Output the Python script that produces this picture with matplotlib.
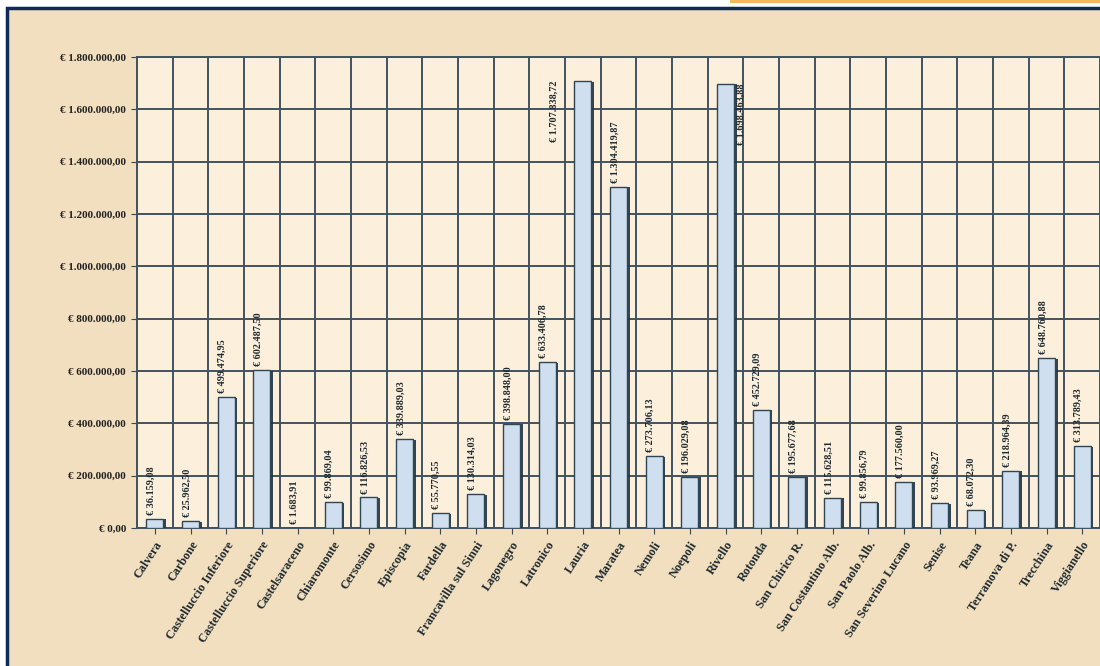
import matplotlib
matplotlib.use("Agg")
import matplotlib.pyplot as plt
import matplotlib.patheffects as pe
from matplotlib.patches import Rectangle
from matplotlib.ticker import FixedLocator

comuni = ["Calvera", "Carbone", "Castelluccio Inferiore", "Castelluccio Superiore",
          "Castelsaraceno", "Chiaromonte", "Cersosimo", "Episcopia", "Fardella",
          "Francavilla sul Sinni", "Lagonegro", "Latronico", "Lauria", "Maratea",
          "Nemoli", "Noepoli", "Rivello", "Rotonda", "San Chirico R.",
          "San Costantino Alb.", "San Paolo Alb.", "San Severino Lucano", "Senise",
          "Teana", "Terranova di P.", "Trecchina", "Viggianello"]
importi = [36159.08, 25962.50, 499474.95, 602487.50,
           1683.91, 99869.04, 116826.53, 339889.03, 55770.55,
           130314.03, 398848.00, 633406.78, 1707838.72, 1304419.87,
           273706.13, 196029.08, 1698463.88, 452729.09, 195677.68,
           115628.51, 99856.79, 177560.00, 93969.27,
           68072.30, 218964.39, 648760.88, 313789.43]
yticks = [0, 200000, 400000, 600000, 800000, 1000000, 1200000, 1400000, 1600000, 1800000]


def euro(v):
    s = f"{v:,.2f}"
    s = s.replace(",", "X").replace(".", ",").replace("X", ".")
    return "€ " + s


plt.rcParams['font.family'] = ['Liberation Serif', 'DejaVu Serif']

fig = plt.figure(figsize=(11, 6.66), dpi=100)
fig.patch.set_facecolor("white")

# parchment background with navy frame (extends past right/bottom edges)
bg = Rectangle((7 / 1100, -0.05), 1.1, 1 - 8 / 666 + 0.05, transform=fig.transFigure,
               facecolor="#f1dfbf", edgecolor="#0f2a55", linewidth=2.5, zorder=-10)
fig.patches.append(bg)
strip = Rectangle((730 / 1100, 1 - 3 / 666), 1 - 730 / 1100, 3 / 666, transform=fig.transFigure,
                  facecolor="#f4b860", edgecolor="none", zorder=-10)
fig.patches.append(strip)

ax = fig.add_axes([137 / 1100, 138 / 666, 1 - 137 / 1100, (528 - 57) / 666])
ax.set_facecolor("#fcefdc")
ax.set_zorder(5)

x = list(range(len(comuni)))
bars = ax.bar(x, importi, width=0.48, color="#cfdff0", edgecolor="#2e4656",
              linewidth=1.0, zorder=3)
for b in bars:
    b.set_path_effects([pe.SimplePatchShadow(offset=(1.8, -0.5), shadow_rgbFace="#1f3340",
                                              alpha=0.9), pe.Normal()])

ax.set_xlim(-0.5, len(comuni) - 0.5)
ax.set_ylim(0, 1800000)
ax.set_yticks(yticks)
ax.set_yticklabels([euro(v) for v in yticks], fontsize=8, fontweight="bold", color="#222222")
ax.set_xticks(x)
ax.set_xticklabels(comuni, rotation=57, ha="right", rotation_mode="anchor",
                   fontsize=8.8, fontweight="bold", color="#1e2a30")
ax.tick_params(axis="x", length=4, pad=4, color="#3a4a55")
ax.tick_params(axis="y", length=4, pad=4, color="#3a4a55")

ax.xaxis.set_minor_locator(FixedLocator([i - 0.5 for i in range(len(comuni) + 1)]))
ax.grid(which="minor", axis="x", color="#415260", linewidth=1.4, zorder=1)
ax.grid(which="major", axis="y", color="#415260", linewidth=1.4, zorder=1)
ax.tick_params(axis="x", which="minor", length=0)
ax.set_axisbelow(True)

for s in ax.spines.values():
    s.set_color("#415260")
    s.set_linewidth(1.4)
ax.spines["right"].set_visible(False)

for i, (xi, v) in enumerate(zip(x, importi)):
    if comuni[i] == "Lauria":
        ax.text(xi - 0.8, v, euro(v), rotation=90, ha="center", va="top",
                fontsize=7.3, fontweight="bold", color="#1e2a30", zorder=4)
    elif comuni[i] == "Rivello":
        ax.text(xi + 0.43, v, euro(v), rotation=90, ha="center", va="top",
                fontsize=7.3, fontweight="bold", color="#1e2a30", zorder=4)
    else:
        ax.text(xi - 0.1, v + 15000, euro(v), rotation=90, ha="center", va="bottom",
                fontsize=7.3, fontweight="bold", color="#1e2a30", zorder=4)

fig.savefig("out.png", dpi=100, facecolor=fig.get_facecolor())
